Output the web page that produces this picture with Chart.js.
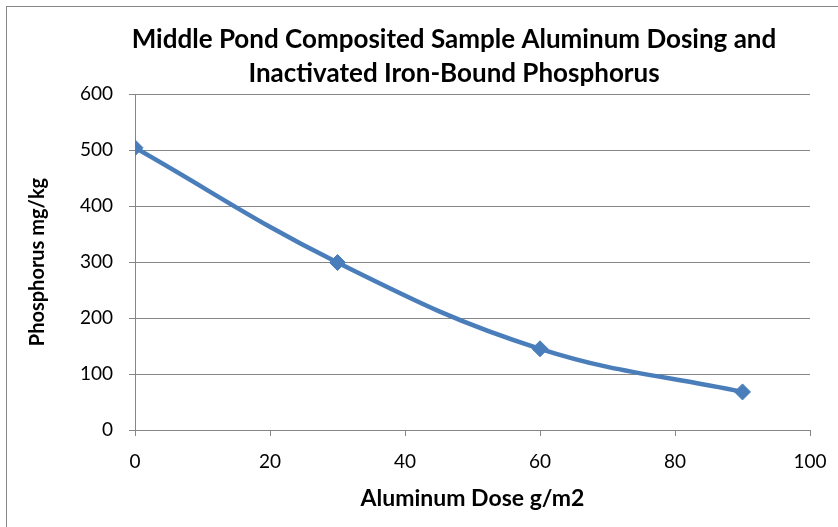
<!DOCTYPE html>
<html>
<head>
<meta charset="utf-8">
<script src="https://cdn.jsdelivr.net/npm/chart.js@4"></script>
<style>
  body { margin: 0; background: #fff; }
  canvas { display: block; }
</style>
</head>
<body>
<canvas id="chart" width="838" height="527"></canvas>
<script>
/* DATA */
const doses = [0, 30, 60, 90];
const phosphorus = [504, 299, 145, 68];
const xRange = [0, 100, 20];
const yRange = [0, 600, 100];
const titleLines = ["Middle Pond Composited Sample Aluminum Dosing and", "Inactivated Iron-Bound Phosphorus"];

const grey = "#868686";
const blue = "#4A7EBB";
const font = "Lato, 'Open Sans', sans-serif";

/* outer frame + chart title, placed like the spreadsheet chart */
const frame = {
  id: "frame",
  beforeDraw(chart) {
    const c = chart.ctx;
    c.save();
    c.fillStyle = "#fff";
    c.fillRect(0, 0, chart.width, chart.height);
    c.strokeStyle = grey;
    c.lineWidth = 1;
    c.strokeRect(6.5, 6.5, chart.width + 10, chart.height + 10);
    c.restore();
  },
  afterDraw(chart) {
    const c = chart.ctx;
    c.save();
    c.fillStyle = "#000";
    c.font = "bold 26px " + font;
    c.textAlign = "center";
    c.textBaseline = "middle";
    titleLines.forEach((t, i) => c.fillText(t, 454, 40 + i * 34));
    c.restore();
  }
};

const ctx = document.getElementById("chart");

new Chart(ctx, {
  type: "line",
  data: {
    datasets: [{
      label: "Phosphorus",
      data: doses.map((d, i) => ({ x: d, y: phosphorus[i] })),
      borderColor: blue,
      backgroundColor: blue,
      borderWidth: 4.5,
      pointStyle: "rectRot",
      pointRadius: 8,
      pointBorderWidth: 1,
      tension: 0.4,
      fill: false
    }]
  },
  plugins: [frame],
  options: {
    responsive: false,
    animation: false,
    layout: { padding: { left: 0, right: 0, top: 94, bottom: 0 } },
    plugins: {
      legend: { display: false },
      tooltip: { enabled: false },
      title: { display: false }
    },
    scales: {
      x: {
        type: "linear",
        min: xRange[0],
        max: xRange[1],
        afterFit(scale) {
          scale.height = 97;
          scale.paddingRight = 28;
        },
        ticks: { stepSize: xRange[2], color: "#000", padding: 14, maxRotation: 0,
                 font: { family: font, size: 19 } },
        grid: { drawOnChartArea: false, color: grey, tickLength: 6 },
        border: { color: grey, width: 1 },
        title: {
          display: true,
          text: "Aluminum Dose g/m2",
          color: "#000",
          font: { family: font, size: 23, weight: "bold" },
          padding: { top: 0, bottom: 15 }
        }
      },
      y: {
        min: yRange[0],
        max: yRange[1],
        afterFit(scale) { scale.width = 135; },
        ticks: { stepSize: yRange[2], color: "#000", padding: 16,
                 font: { family: font, size: 19 } },
        grid: { color: grey, tickLength: 6 },
        border: { color: grey, width: 1 },
        title: {
          display: true,
          text: "Phosphorus mg/kg",
          color: "#000",
          font: { family: font, size: 20, weight: "bold" },
          padding: { top: 26, bottom: 0 }
        }
      }
    }
  }
});
</script>
</body>
</html>
